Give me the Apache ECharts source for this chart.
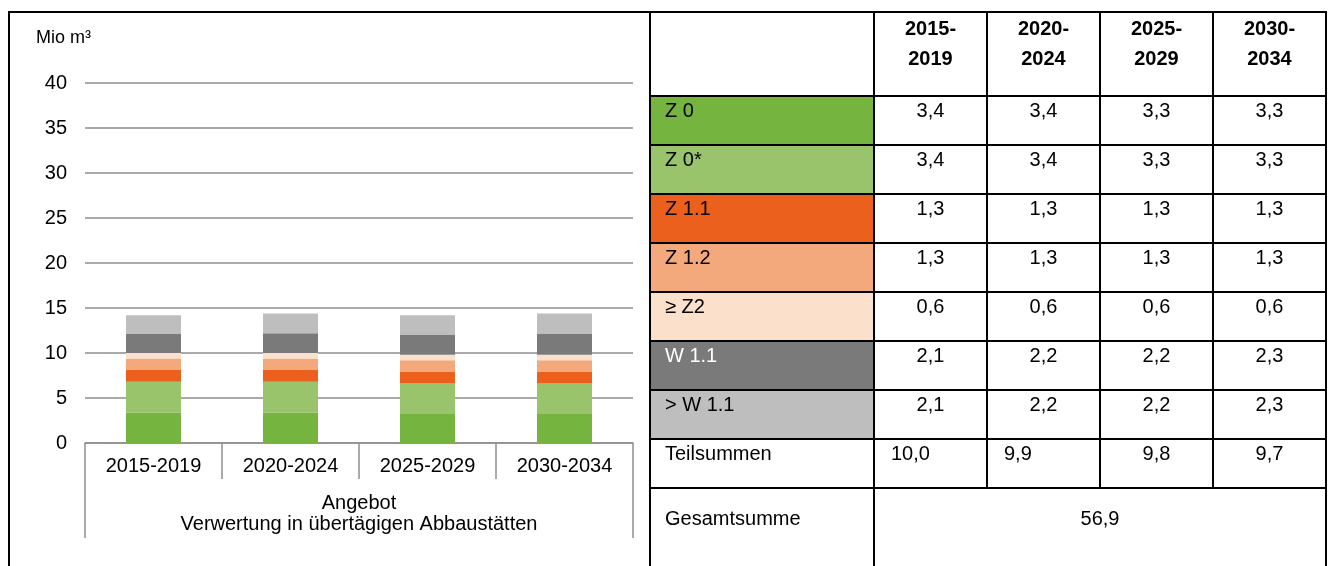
<!DOCTYPE html>
<html>
<head>
<meta charset="utf-8">
<script src="https://cdn.jsdelivr.net/npm/echarts@6/dist/echarts.min.js"></script>
<style>
  html, body { margin: 0; padding: 0; background: #fff; }
  #wrap { position: relative; width: 1328px; height: 566px; overflow: hidden; font-family: 'Liberation Sans', Arial, sans-serif; }
  #frame { position: absolute; left: 8px; top: 11px; width: 1319px; height: 620px; border: 2px solid #000; box-sizing: border-box; }
  #chart { position: absolute; left: 0; top: 0; width: 650px; height: 566px; }
  #tbl { position: absolute; left: 649px; top: 11px; border-collapse: collapse; table-layout: fixed; font-size: 20px; color: #000; }
  #tbl td { border: 2px solid #000; vertical-align: top; padding: 1px 0 0 0; line-height: 24px; text-align: center; overflow: hidden; }
  #tbl td.lbl { text-align: left; padding-left: 14px; }
  #tbl tr.head td { font-weight: bold; line-height: 30px; padding-top: 0; }
</style>
</head>
<body>
<div id="wrap">
  <div id="frame"></div>
  <div id="chart"></div>
  <table id="tbl"></table>
</div>
<script>
// Zeiträume und Beschriftungen
var categories = ['2015-2019', '2020-2024', '2025-2029', '2030-2034'];
var groupLabel = 'Angebot\nVerwertung in übertägigen Abbaustätten';
var classNames = ['Z 0', 'Z 0*', 'Z 1.1', 'Z 1.2', '≥ Z2', 'W 1.1', '> W 1.1'];

// Werte in Mio m³ je Klasse
var z0 = [3.4, 3.4, 3.3, 3.3];
var z0Stern = [3.4, 3.4, 3.3, 3.3];
var z11 = [1.3, 1.3, 1.3, 1.3];
var z12 = [1.3, 1.3, 1.3, 1.3];
var z2 = [0.6, 0.6, 0.6, 0.6];
var w11 = [2.1, 2.2, 2.2, 2.3];
var w11Plus = [2.1, 2.2, 2.2, 2.3];
var teilsummen = [10.0, 9.9, 9.8, 9.7];
var gesamtsumme = 56.9;

var classValues = [z0, z0Stern, z11, z12, z2, w11, w11Plus];
var classColors = ['#74b43f', '#99c46b', '#ea601c', '#f3a97b', '#fbe0cc', '#7a7a7a', '#bebebe'];
var labelColors = ['#000', '#000', '#000', '#000', '#000', '#fff', '#000'];

function fmt(v) {
    return v.toFixed(1).replace('.', ',');
}

// Tabelle rechts
var tbl = document.getElementById('tbl');
var html = '<colgroup><col style="width:224px">';
categories.forEach(function () { html += '<col style="width:113px">'; });
html += '</colgroup>';
html += '<tr class="head"><td style="height:82px"></td>';
categories.forEach(function (c) {
    var p = c.split('-');
    html += '<td>' + p[0] + '-<br>' + p[1] + '</td>';
});
html += '</tr>';
classNames.forEach(function (name, i) {
    html += '<tr><td class="lbl" style="height:46px;background:' + classColors[i] + ';color:' + labelColors[i] + '">' + name + '</td>';
    classValues[i].forEach(function (v) { html += '<td>' + fmt(v) + '</td>'; });
    html += '</tr>';
});
html += '<tr><td class="lbl" style="height:46px">Teilsummen</td>';
teilsummen.forEach(function (v, i) {
    var st = i < 2 ? ' style="text-align:left;padding-left:16px"' : '';
    html += '<td' + st + '>' + fmt(v) + '</td>';
});
html += '</tr>';
html += '<tr><td class="lbl" style="height:120px;padding-top:17px">Gesamtsumme</td>' +
    '<td colspan="' + categories.length + '" style="padding-top:17px">' + fmt(gesamtsumme) + '</td></tr>';
tbl.innerHTML = html;

// Diagramm links
var chart = echarts.init(document.getElementById('chart'));
var gridColor = '#8e8e8e';

var series = classNames.map(function (name, i) {
    return {
        name: name,
        type: 'bar',
        stack: 'angebot',
        barWidth: 55,
        data: classValues[i],
        itemStyle: { color: classColors[i] }
    };
});

var option = {
    animation: false,
    textStyle: { fontFamily: 'Liberation Sans, Arial, sans-serif' },
    title: {
        text: 'Mio m³',
        left: 31,
        top: 24,
        textStyle: { fontSize: 18, fontWeight: 'normal', color: '#000' }
    },
    grid: { left: 85, right: 17, top: 83, bottom: 123 },
    xAxis: [
        {
            type: 'category',
            data: categories,
            axisLine: { lineStyle: { color: gridColor, width: 1.5 } },
            axisTick: { show: true, interval: 0, length: 36, lineStyle: { color: gridColor, width: 1.5 } },
            axisLabel: { interval: 0, margin: 13, fontSize: 20, color: '#000' }
        },
        {
            type: 'category',
            position: 'bottom',
            data: [groupLabel],
            axisLine: { show: false },
            axisTick: { show: true, length: 95, lineStyle: { color: gridColor, width: 1.5 } },
            axisLabel: { margin: 50, fontSize: 20, lineHeight: 21, color: '#000' }
        }
    ],
    yAxis: {
        type: 'value',
        min: 0,
        max: 40,
        interval: 5,
        axisLine: { show: false },
        axisTick: { show: false },
        splitLine: { lineStyle: { color: gridColor, width: 1.5 } },
        axisLabel: { margin: 18, fontSize: 20, color: '#000' }
    },
    series: series
};

chart.setOption(option);
</script>
</body>
</html>
